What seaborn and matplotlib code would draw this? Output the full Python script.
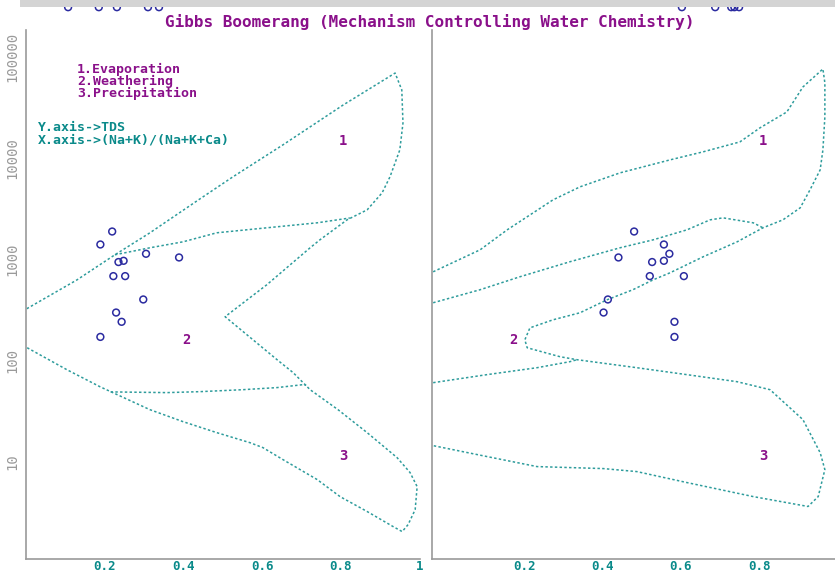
import matplotlib
matplotlib.use("Agg")
import matplotlib.pyplot as plt
import numpy as np
import pandas as pd
import seaborn as sns
from matplotlib.patches import Rectangle
from matplotlib.ticker import FixedLocator, NullLocator

# sample TDS (mg/L), same samples in both panels
tds = [1280, 964, 787, 726, 657, 675, 483, 483, 290, 218, 178, 128]
na_ratio = [0.219, 0.189, 0.305, 0.389, 0.235, 0.248, 0.222, 0.252, 0.298, 0.229, 0.243, 0.189]
cl_ratio = [0.481, 0.557, 0.571, 0.441, 0.527, 0.557, 0.521, 0.608, 0.414, 0.403, 0.584, 0.584]

# off-scale samples, shown above the frame
tds_high = [172000, 172000, 172000, 172000, 172000]
na_high = [0.107, 0.185, 0.231, 0.310, 0.338]
cl_high = [0.603, 0.688, 0.729, 0.737, 0.749]

# Gibbs boundaries, (Na+K)/(Na+K+Ca)
na_outer_x = [0.002, 0.130, 0.226, 0.315, 0.442, 0.526, 0.653, 0.806, 0.938,
              0.955, 0.958, 0.950, 0.925, 0.905, 0.867, 0.816, 0.747, 0.722, 0.612, 0.506,
              0.638, 0.679, 0.722, 0.793, 0.867, 0.943, 0.976, 0.994, 0.989, 0.971, 0.956,
              0.933, 0.867, 0.798, 0.740, 0.653, 0.602, 0.569, 0.485, 0.399, 0.315, 0.188, 0.104, 0.003]
na_outer_y = [237, 446, 770, 1245, 2610, 4230, 8500, 20300, 40800,
              28200, 13700, 7620, 4230, 2980, 2055, 1652, 1068, 897, 400, 199,
              77.8, 58.6, 40.4, 26.1, 15.8, 9.16, 6.61, 4.86, 2.94, 2.12, 1.82,
              2.03, 2.82, 3.91, 5.67, 8.77, 11.4, 12.7, 15.8, 20.1, 26.1, 43.1, 62.5, 101]
na_inner_upper_x = [0.226, 0.315, 0.399, 0.485, 0.612, 0.740, 0.823]
na_inner_upper_y = [770, 897, 1022, 1245, 1388, 1548, 1720]
na_inner_lower_x = [0.215, 0.358, 0.442, 0.551, 0.638, 0.704, 0.712]
na_inner_lower_y = [38.5, 37.9, 38.7, 40.4, 42.3, 45.1, 44.5]

# Gibbs boundaries, Cl/(Cl+HCO3)
cl_outer_x = [-0.032, 0.088, 0.157, 0.274, 0.343, 0.445, 0.573, 0.657, 0.751, 0.802,
              0.871, 0.912, 0.963, 0.968, 0.968, 0.963, 0.956, 0.930, 0.905, 0.861,
              0.810, 0.744, 0.657, 0.573, 0.530, 0.478, 0.412, 0.343, 0.274, 0.215,
              0.202, 0.208, 0.292, 0.335, 0.488, 0.616, 0.744, 0.828, 0.912, 0.956,
              0.968, 0.951, 0.925, 0.785, 0.616, 0.488, 0.402, 0.233, 0.105, -0.032]
cl_outer_y = [531, 859, 1328, 2557, 3398, 4610, 6125, 7295, 9065, 12300,
              17450, 30100, 44600, 32900, 15650, 7620, 4920, 3180, 2147, 1652,
              1388, 1022, 736, 520, 446, 359, 288, 217, 186, 156,
              120, 101, 83, 77.8, 65.3, 56.1, 48.1, 40.4, 21.0, 10.2,
              7.05, 3.91, 3.15, 3.91, 5.31, 6.75, 7.21, 7.53, 9.38, 11.9]
cl_inner_upper_x = [-0.032, 0.088, 0.190, 0.317, 0.445, 0.530, 0.616, 0.675, 0.708, 0.785, 0.810]
cl_inner_upper_y = [270, 359, 477, 661, 897, 1068, 1328, 1652, 1725, 1548, 1388]
cl_inner_lower_x = [-0.032, 0.105, 0.233, 0.317, 0.335]
cl_inner_lower_y = [47.1, 56.1, 65.3, 74.5, 77.8]

zone_labels = ['1', '2', '3']
zone_y = [9200, 120, 9.4]
na_zone_x = [0.806, 0.407, 0.806]
cl_zone_x = [0.810, 0.174, 0.810]

yticks = [10, 100, 1000, 10000, 100000]
ytick_labels = ['10', '100', '1000', '10000', '100000']
na_xticks = [0.2, 0.4, 0.6, 0.8, 1]
na_xtick_labels = ['0.2', '0.4', '0.6', '0.8', '1']
cl_xticks = [0.2, 0.4, 0.6, 0.8]
cl_xtick_labels = ['0.2', '0.4', '0.6', '0.8']

legend_lines = ['1.Evaporation', '2.Weathering', '3.Precipitation']
axis_notes = ['Y.axis->TDS', 'X.axis->(Na+K)/(Na+K+Ca)']

TEAL = '#2e9c9c'
TEAL_TXT = '#0a8a8a'
PURPLE = '#8a108a'
BLUE = '#2b2ba0'
GRAY = '#9a9a9a'

sns.set_style('white')
plt.rcParams['font.family'] = ['DejaVu Sans Mono']

fig = plt.figure(figsize=(8.35, 5.73), dpi=100)
ax1 = fig.add_axes([26 / 835, 14 / 573, 393.5 / 835, 529 / 573])
ax2 = fig.add_axes([432 / 835, 14 / 573, 405.4 / 835, 529 / 573])


def draw_line(ax, xs, ys):
    df = pd.DataFrame({'x': xs, 'y': ys})
    sns.lineplot(data=df, x='x', y='y', ax=ax, sort=False, estimator=None,
                 color=TEAL, linewidth=1.1, dashes=False)
    ax.lines[-1].set_linestyle((0, (1.6, 1.5)))


def style_axes(ax, xlim, xticks, xlabels, show_y):
    ax.set_yscale('log')
    ax.set_xlim(*xlim)
    ax.set_ylim(1.0, 1.045e5)
    ax.set_xlabel('')
    ax.set_ylabel('')
    for s in ['top', 'right']:
        ax.spines[s].set_visible(False)
    for s in ['left', 'bottom']:
        ax.spines[s].set_color(GRAY)
        ax.spines[s].set_linewidth(1.2)
    ax.xaxis.set_major_locator(FixedLocator(xticks))
    ax.set_xticklabels(xlabels, color=TEAL_TXT, fontweight='bold', fontsize=9)
    ax.tick_params(axis='x', direction='in', length=6, color=TEAL_TXT, pad=0.5)
    ax.yaxis.set_minor_locator(NullLocator())
    if show_y:
        ax.yaxis.set_major_locator(FixedLocator(yticks))
        ax.set_yticklabels(ytick_labels, rotation=90, va='top', color=GRAY, fontsize=10)
        ax.tick_params(axis='y', direction='inout', length=7, color=GRAY, pad=1)
    else:
        ax.yaxis.set_major_locator(NullLocator())


# left panel
draw_line(ax1, na_outer_x, na_outer_y)
draw_line(ax1, na_inner_upper_x, na_inner_upper_y)
draw_line(ax1, na_inner_lower_x, na_inner_lower_y)
sns.scatterplot(x=na_ratio, y=tds, ax=ax1, marker='o', s=24, facecolor='none',
                edgecolor=BLUE, linewidth=1.1, zorder=4)
sns.scatterplot(x=na_high, y=tds_high, ax=ax1, marker='o', s=24, facecolor='none',
                edgecolor=BLUE, linewidth=1.1, clip_on=False, zorder=4)
for lab, zx, zy in zip(zone_labels, na_zone_x, zone_y):
    ax1.text(zx, zy, lab, color=PURPLE, fontweight='bold', fontsize=10, ha='center', va='center')
style_axes(ax1, (0, 1), na_xticks, na_xtick_labels, True)

for i, t in enumerate(legend_lines):
    ax1.text(0.13, 0.925 - i * 0.0225, t, transform=ax1.transAxes, color=PURPLE,
             fontweight='bold', fontsize=9.5, va='center', ha='left')
for i, t in enumerate(axis_notes):
    ax1.text(0.03, 0.815 - i * 0.0225, t, transform=ax1.transAxes, color=TEAL_TXT,
             fontweight='bold', fontsize=9.5, va='center', ha='left')

# right panel
draw_line(ax2, cl_outer_x, cl_outer_y)
draw_line(ax2, cl_inner_upper_x, cl_inner_upper_y)
draw_line(ax2, cl_inner_lower_x, cl_inner_lower_y)
sns.scatterplot(x=cl_ratio, y=tds, ax=ax2, marker='o', s=24, facecolor='none',
                edgecolor=BLUE, linewidth=1.1, zorder=4)
sns.scatterplot(x=cl_high, y=tds_high, ax=ax2, marker='o', s=24, facecolor='none',
                edgecolor=BLUE, linewidth=1.1, clip_on=False, zorder=4)
for lab, zx, zy in zip(zone_labels, cl_zone_x, zone_y):
    ax2.text(zx, zy, lab, color=PURPLE, fontweight='bold', fontsize=10, ha='center', va='center')
style_axes(ax2, (-0.035, 1.0), cl_xticks, cl_xtick_labels, False)

fig.text(430 / 835, 1 - 22 / 573, 'Gibbs Boomerang (Mechanism Controlling Water Chemistry)',
         color=PURPLE, fontweight='bold', fontsize=11.5, ha='center', va='center')

# grey strip along the top edge of the screenshot
fig.add_artist(Rectangle((20 / 835, 1 - 7 / 573), 1, 7 / 573, transform=fig.transFigure,
                         facecolor='#d4d4d4', edgecolor='none', zorder=10))

fig.savefig('out.png', dpi=100)
